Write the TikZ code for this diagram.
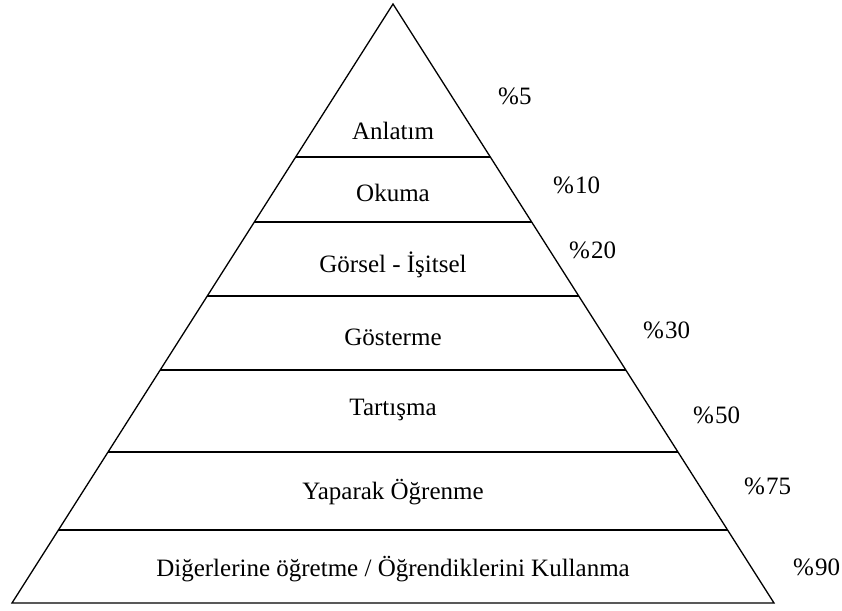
\documentclass[tikz,border=0pt]{standalone}
\usepackage{fontspec}
\setmainfont{Liberation Serif}
\usetikzlibrary{calc}
\begin{document}
\begin{tikzpicture}[x=1pt,y=-1pt,
  edge/.style={line width=1.3pt, line join=miter},
  lvl/.style={line width=1.3pt},
  lab/.style={font=\fontsize{25}{28}\selectfont, inner sep=0pt, anchor=center},
  pct/.style={font=\fontsize{25}{28}\selectfont, inner sep=0pt, anchor=west}]
\useasboundingbox (0,0) rectangle (842,610);
\coordinate (A) at (393,4);
\coordinate (BL) at (12,603);
\coordinate (BR) at (774,603);
\draw[edge] (BL) -- (A) -- (BR) -- cycle;
% level lines
\foreach \yy/\nm in {157/a,222/b,296/c,370/d,452/e,530/f}{
  \coordinate (L\nm) at ($(A)!{(\yy-4)/599}!(BL)$);
  \coordinate (R\nm) at ($(A)!{(\yy-4)/599}!(BR)$);
  \draw[lvl] (L\nm) -- (R\nm);
}
\node[lab] (t1) at (393,131) {Anlatım};
\node[lab] (t2) at (393,193) {Okuma};
\node[lab] (t3) at (393,265) {Görsel - İşitsel};
\node[lab] (t4) at (393,337) {Gösterme};
\node[lab] (t5) at (393,410) {Tartışma};
\node[lab] (t6) at (393,492) {Yaparak Öğrenme};
\node[lab] (t7) at (393,569) {Diğerlerine öğretme / Öğrendiklerini Kullanma};
\node[pct] (p1) at (498,96) {\%5};
\node[pct] (p2) at (553,185) {\%\kern1pt10};
\node[pct] (p3) at (569,250) {\%\kern1pt20};
\node[pct] (p4) at (643,330) {\%\kern1pt30};
\node[pct] (p5) at (693,415) {\%\kern1pt50};
\node[pct] (p6) at (744,486) {\%\kern1pt75};
\node[pct] (p7) at (793,567) {\%\kern1pt90};
\end{tikzpicture}
\end{document}
